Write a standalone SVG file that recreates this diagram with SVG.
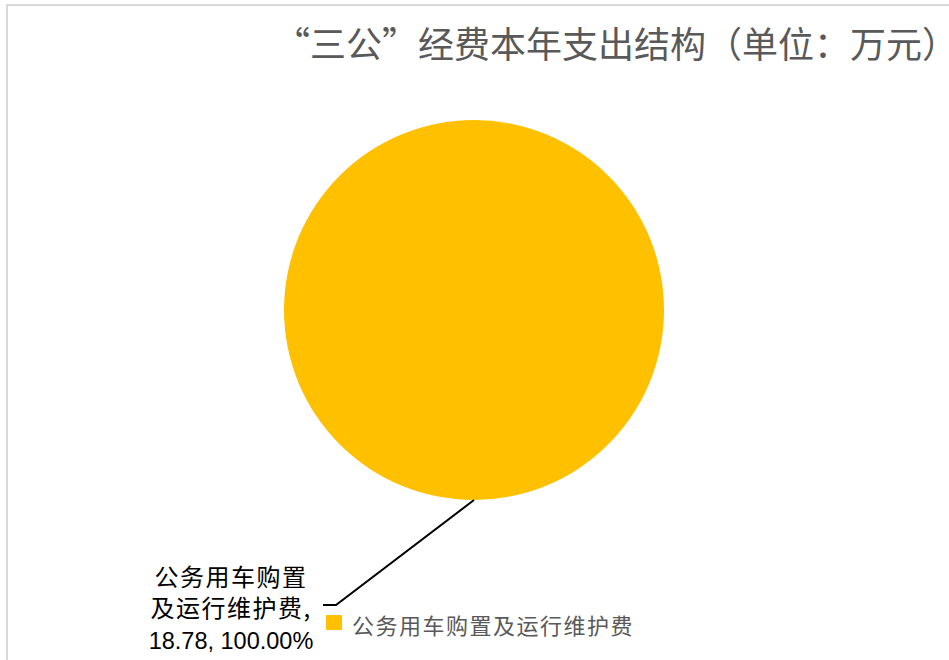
<svg xmlns="http://www.w3.org/2000/svg" width="949" height="660" viewBox="0 0 949 660">
<style>
.cjk{font-family:"Noto Sans CJK SC","Liberation Sans",sans-serif}
.title{font-size:36px;fill:#595959}
.lbl{font-size:24px;fill:#000000;letter-spacing:1.5px}
.num{font-family:"Liberation Sans",sans-serif;font-size:23.5px;fill:#000000}
.leg{font-size:22px;fill:#595959;letter-spacing:1.5px}
</style>
<rect width="949" height="660" fill="#ffffff"/>
<rect x="7" y="5" width="960" height="680" fill="none" stroke="#d9d9d9" stroke-width="2"/>
<g id="title"><text class="cjk title" x="274" y="58">“三公”经费本年支出结构（单位：万元）</text></g>
<g id="pie"><circle cx="474" cy="310" r="190" fill="#FFC000"/></g>
<g id="connectors"><polyline points="474,500 336,605 323,605" fill="none" stroke="#000000" stroke-width="2"/></g>
<g id="data-label">
<text class="cjk lbl" x="231" y="586" text-anchor="middle">公务用车购置</text>
<text class="cjk lbl" x="231" y="617" text-anchor="middle">及运行维护费,</text>
<text class="num" x="231" y="649" text-anchor="middle">18.78, 100.00%</text>
</g>
<g id="legend">
<rect x="326" y="615" width="16" height="15" fill="#FFC000"/>
<text class="cjk leg" x="352" y="634">公务用车购置及运行维护费</text>
</g>
</svg>
